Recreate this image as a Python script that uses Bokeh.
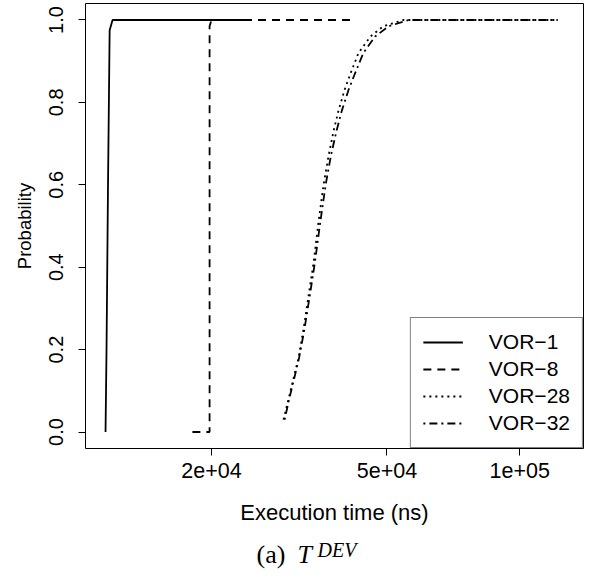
from bokeh.plotting import figure
from bokeh.layouts import column
from bokeh.models import FixedTicker, Legend, LegendItem
from bokeh.core.properties import value
from bokeh.embed import file_html
from bokeh.resources import INLINE

# ---- data ----
series_names = ["VOR\u22121", "VOR\u22128", "VOR\u221228", "VOR\u221232"]

vor1_x = [11500, 11560, 11650, 11750, 11930, 23900]
vor1_y = [0.0, 0.2, 0.6, 0.975, 1.0, 1.0]

vor8_x = [18100, 19800, 19800, 20000, 42400]
vor8_y = [0.0, 0.0, 0.985, 1.0, 1.0]

vor28_x = [29130, 29900, 30690, 31510, 32340, 33190, 34070, 34970, 35900, 36850,
           37820, 38820, 40060, 41330, 43090, 45870, 49100, 54510, 121800]
vor28_y = [0.03, 0.08, 0.13, 0.18, 0.25, 0.33, 0.41, 0.51, 0.60, 0.67,
           0.73, 0.78, 0.83, 0.87, 0.92, 0.96, 0.985, 1.0, 1.0]

vor32_x = [29300, 30000, 30800, 31600, 32500, 33400, 34300, 35300, 36300, 37300,
           38400, 39500, 40900, 42300, 44200, 47000, 50500, 56000, 122000]
vor32_y = [0.03, 0.08, 0.13, 0.18, 0.25, 0.33, 0.41, 0.51, 0.60, 0.67,
           0.73, 0.78, 0.83, 0.87, 0.92, 0.96, 0.985, 1.0, 1.0]

xtick_values = [20000, 50000, 100000]
xtick_labels = ["2e+04", "5e+04", "1e+05"]
ytick_values = [0, 0.2, 0.4, 0.6, 0.8, 1.0]
ytick_labels = ["0.0", "0.2", "0.4", "0.6", "0.8", "1.0"]

x_label = "Execution time (ns)"
y_label = "Probability"
caption_parts = ["(a)", "T", "DEV"]

FONT = "Liberation Sans"
SERIF = "Liberation Serif"

p = figure(frame_width=498, frame_height=445,
           x_axis_type="log", x_range=(10358, 139520), y_range=(-0.04, 1.04),
           output_backend="svg", toolbar_location=None,
           min_border_left=85, min_border_right=8, min_border_top=3, min_border_bottom=82)

p.background_fill_color = "white"
p.border_fill_color = "white"
p.outline_line_color = "black"
p.outline_line_width = 1
p.grid.visible = False

lw = 1.8
r1 = p.line(vor1_x, vor1_y, line_color="black", line_width=lw)
r8 = p.line(vor8_x, vor8_y, line_color="black", line_width=lw, line_dash="8 6")
r28 = p.line(vor28_x, vor28_y, line_color="black", line_width=lw, line_dash="2 4")
r32 = p.line(vor32_x, vor32_y, line_color="black", line_width=lw, line_dash="2 4 8 4")

# axes
xa = p.xaxis[0]
xa.ticker = FixedTicker(ticks=xtick_values)
xa.major_label_overrides = {v: l for v, l in zip(xtick_values, xtick_labels)}
ya = p.yaxis[0]
ya.ticker = FixedTicker(ticks=ytick_values)
ya.major_label_overrides = {v: l for v, l in zip(ytick_values, ytick_labels)}
ya.major_label_orientation = "vertical"

for ax in (xa, ya):
    ax.axis_line_color = None
    ax.major_tick_in = 0
    ax.major_tick_out = 7
    ax.major_tick_line_color = "black"
    ax.minor_tick_line_color = None
    ax.major_label_text_font = FONT
    ax.major_label_text_color = "black"
    ax.axis_label_text_font = FONT
    ax.axis_label_text_font_style = "normal"
    ax.axis_label_text_color = "black"

xa.major_label_text_font_size = "21.5px"
xa.axis_label_text_font_size = "22px"
xa.major_label_standoff = 7
xa.axis_label = x_label
xa.axis_label_standoff = 19

ya.major_label_text_font_size = "20px"
ya.axis_label_text_font_size = "18.5px"
ya.major_label_standoff = 15
ya.axis_label = y_label
ya.axis_label_standoff = 12

legend = Legend(items=[LegendItem(label=n, renderers=[r]) for n, r in
                       zip(series_names, [r1, r8, r28, r32])],
                location="bottom_right", margin=0, padding=12, spacing=3,
                glyph_width=40, glyph_height=24, label_height=24, label_standoff=26,
                label_text_font=FONT, label_text_font_size="21px",
                label_text_color="black",
                border_line_color="black", border_line_width=1,
                background_fill_color="white", background_fill_alpha=1.0)
p.add_layout(legend)

# caption "(a) T^DEV" in its own strip below the plot; its frame is aligned
# with the main frame (page pixels 85..583), so its x range uses page pixels
cap = figure(width=591, height=47, x_range=(85, 583), y_range=(0, 47),
             x_axis_location=None, y_axis_location=None,
             output_backend="svg", toolbar_location=None, min_border=0)
cap.grid.visible = False
cap.outline_line_color = None
cap.background_fill_color = "white"
cap.border_fill_color = "white"
cap.text(x=[256], y=[23], text=[caption_parts[0]], text_font=value(SERIF),
         text_font_size="26px", text_color="black", text_baseline="alphabetic")
cap.text(x=[297], y=[23], text=[caption_parts[1]], text_font=value(SERIF),
         text_font_style="italic", text_font_size="26px", text_color="black",
         text_baseline="alphabetic")
cap.text(x=[317], y=[28], text=[caption_parts[2]], text_font=value(SERIF),
         text_font_style="italic", text_font_size="20px", text_color="black",
         text_baseline="alphabetic")

layout = column(p, cap, spacing=0)
open("out.html", "w").write(file_html(layout, INLINE))
